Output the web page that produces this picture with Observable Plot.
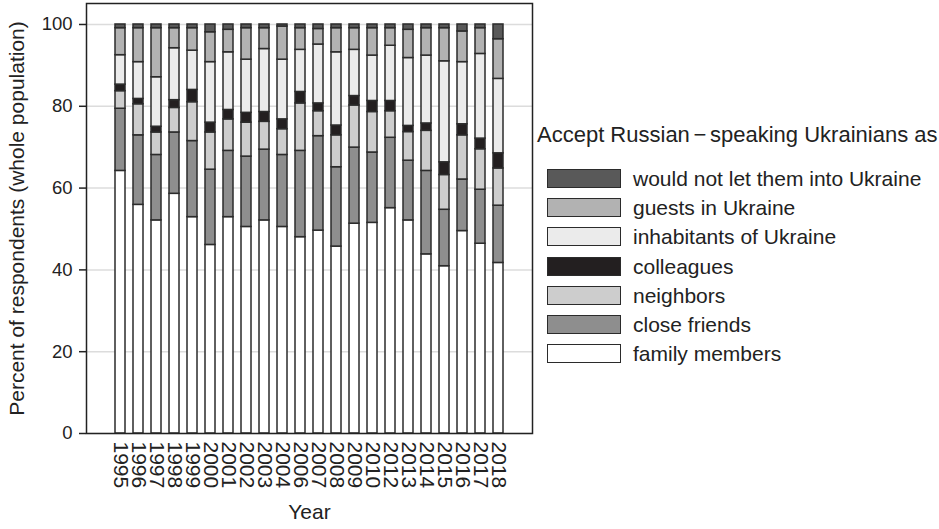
<!DOCTYPE html>
<html>
<head>
<meta charset="utf-8">
<script src="https://cdn.jsdelivr.net/npm/d3@7"></script>
<script src="https://cdn.jsdelivr.net/npm/@observablehq/plot@0.6"></script>
<style>
  html, body { margin: 0; padding: 0; background: #fff; }
  #wrap { position: relative; width: 939px; height: 529px; overflow: hidden; font-family: "Liberation Sans", Arial, sans-serif; color: #222; }
  #legend { position: absolute; left: 0; top: 0; width: 939px; height: 529px; pointer-events: none; }
  .lg-title { position: absolute; left: 537px; top: 124px; font-size: 22px; line-height: 21px; white-space: nowrap; }
  .lg-row { position: absolute; left: 547px; height: 19px; display: flex; align-items: center; white-space: nowrap; }
  .lg-sw { width: 74px; height: 19px; box-sizing: border-box; border: 1.5px solid #2b2b2b; }
  .lg-tx { margin-left: 12px; font-size: 21px; line-height: 19px; }
</style>
</head>
<body>
<div id="wrap"><div id="chart"></div><div id="legend"></div></div>
<script>
const years = ["1995","1996","1997","1998","1999","2000","2001","2002","2003","2004","2006","2007","2008","2009","2010","2012","2013","2014","2015","2016","2017","2018"];

const categories = ["family members","close friends","neighbors","colleagues","inhabitants of Ukraine","guests in Ukraine","would not let them into Ukraine"];
const colors = ["#ffffff","#8e8e8e","#cdcdcd","#231f20","#ebebeb","#b2b2b2","#595959"];

const familyMembers = [64.2,55.9,52.1,58.6,52.9,46.1,52.9,50.5,52.1,50.5,48.0,49.6,45.7,51.3,51.5,55.1,52.1,43.8,40.9,49.5,46.4,41.7];
const closeFriends  = [15.2,17.0,16.0,15.0,18.6,18.4,16.2,17.2,17.3,17.6,21.1,23.1,19.4,18.6,17.2,17.2,14.6,20.4,13.8,12.6,13.2,14.0];
const neighbors     = [4.3,7.6,5.5,6.0,9.5,9.1,7.7,8.3,6.8,6.3,11.6,6.1,7.8,10.3,9.9,6.5,7.0,9.8,8.5,10.8,9.9,9.1];
const colleagues    = [1.6,1.3,1.4,1.9,3.0,2.4,2.3,2.4,2.4,2.4,2.8,1.9,2.4,2.3,2.7,2.5,1.5,1.8,3.1,2.7,2.6,3.7];
const inhabitants   = [7.2,9.0,12.1,12.7,9.6,14.8,14.1,13.0,15.4,14.6,10.3,14.4,17.9,11.3,11.1,13.5,16.6,16.6,24.7,15.2,20.7,18.2];
const guests        = [6.6,8.3,12.0,4.9,5.5,7.3,5.5,7.7,5.1,8.1,5.3,3.8,5.9,5.3,6.7,4.3,6.9,6.7,8.1,7.5,6.3,9.7];
const wouldNot      = [0.9,0.9,0.9,0.9,0.9,1.9,1.3,0.9,0.9,0.5,0.9,1.1,0.9,0.9,0.9,0.9,1.3,0.9,0.9,1.7,0.9,3.6];

const yTicks = [0, 20, 40, 60, 80, 100];
const legendTitle = "Accept Russian\u2006\u2212\u2006speaking Ukrainians as";
const xTitle = "Year";
const yTitle = "Percent of respondents (whole population)";

const series = [familyMembers, closeFriends, neighbors, colleagues, inhabitants, guests, wouldNot];
const rows = years.flatMap((yr, i) => categories.map((c, j) => ({year: yr, category: c, value: series[j][i]})));

const chart = Plot.plot({
  width: 939,
  height: 529,
  marginLeft: 86,
  marginRight: 407,
  marginTop: 3,
  marginBottom: 96,
  style: {fontFamily: "'Liberation Sans', Arial, sans-serif", color: "#222", background: "white", overflow: "visible"},
  x: {domain: years, paddingInner: 0.42, paddingOuter: 1.2, label: xTitle},
  y: {domain: [0, 105.13], label: yTitle},
  color: {domain: categories, range: colors},
  marks: [
    Plot.gridY(yTicks, {stroke: "#dcdcdc", strokeOpacity: 1, strokeWidth: 1.5}),
    Plot.barY(rows, {x: "year", y: "value", fill: "category", order: categories, stroke: "#2b2b2b", strokeWidth: 1.5}),
    Plot.frame({stroke: "#222", strokeWidth: 1.5}),
    Plot.axisY(yTicks, {tickSize: 7, tickPadding: 7, fontSize: 18.5, label: null, stroke: "#222", strokeWidth: 1.5}),
    Plot.axisY([], {tickSize: 0, fontSize: 21, label: yTitle, labelAnchor: "center", labelOffset: 77, labelArrow: "none"}),
    Plot.axisX({tickSize: 0, tickPadding: 8, tickRotate: 90, fontSize: 21, label: xTitle, labelAnchor: "center", labelOffset: 85, labelArrow: "none"})
  ]
});
document.getElementById("chart").appendChild(chart);

// legend
const lg = document.getElementById("legend");
const t = document.createElement("div");
t.className = "lg-title";
t.textContent = legendTitle;
lg.appendChild(t);
const order = categories.map((c, j) => j).reverse();
order.forEach((j, k) => {
  const row = document.createElement("div");
  row.className = "lg-row";
  row.style.top = (169 + k * 29.2) + "px";
  const sw = document.createElement("div");
  sw.className = "lg-sw";
  sw.style.background = colors[j];
  const tx = document.createElement("div");
  tx.className = "lg-tx";
  tx.textContent = categories[j];
  row.appendChild(sw);
  row.appendChild(tx);
  lg.appendChild(row);
});
</script>
</body>
</html>
